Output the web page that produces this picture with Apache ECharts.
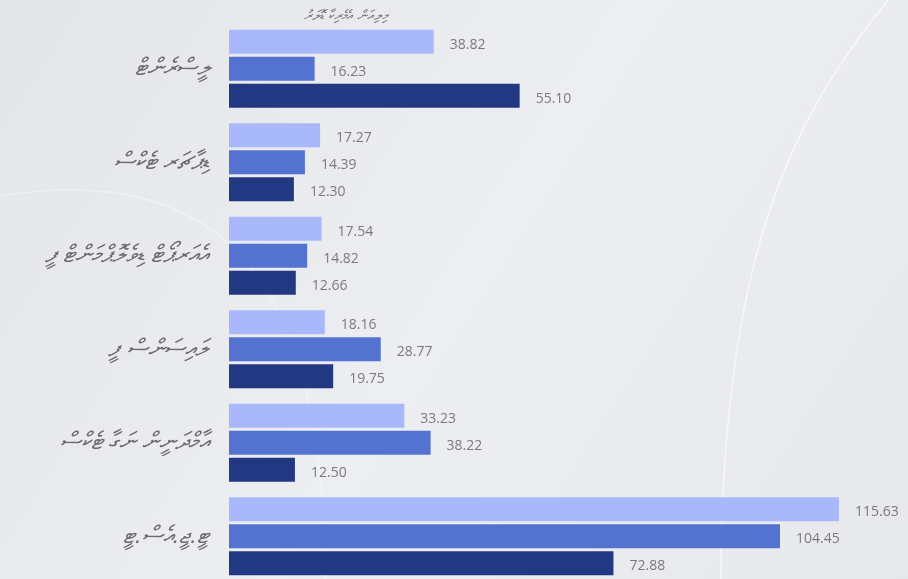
<!DOCTYPE html>
<html>
<head>
<meta charset="utf-8">
<script src="https://cdn.jsdelivr.net/npm/echarts@6/dist/echarts.min.js"></script>
<style>
  html, body { margin: 0; padding: 0; }
  #main { width: 908px; height: 579px; }
</style>
</head>
<body>
<div id="main"></div>
<script>
// ބައިތައް (މަތިން ތިރިއަށް)
var categories = ['ލީސްރެންޓް', 'ޑިޕާޗަރ ޓެކްސް', 'އެއަރޕޯޓް ޑިވެލޮޕްމަންޓް ފީ', 'ލައިސަންސް ފީ', 'އާމްދަނީން ނަގާ ޓެކްސް', 'ޓީ.ޖީ.އެސް.ޓީ'];
var series1 = [38.82, 17.27, 17.54, 18.16, 33.23, 115.63];
var series2 = [16.23, 14.39, 14.82, 28.77, 38.22, 104.45];
var series3 = [55.10, 12.30, 12.66, 19.75, 12.50, 72.88];
var seriesNames = ['1', '2', '3'];
var titleText = 'މިލިއަން އެމެރިކާ ޑޮލަރު';

var colors = ['#a9b8fa', '#5472cf', '#233883'];

var myChart = echarts.init(document.getElementById('main'));

function makeSeries(name, data, color) {
    return {
	name : name,
	type : 'bar',
	data : data,
	barWidth : 24,
	barGap : '12%',
	itemStyle : {
	    color : color
	},
	label : {
	    show : true,
	    position : 'right',
	    distance : 16,
	    offset : [ 0, 3 ],
	    color : '#7a7a7a',
	    fontSize : 14,
	    fontFamily : 'Open Sans',
	    formatter : function(p) {
		return p.value.toFixed(2);
	    }
	}
    };
}

myChart.setOption({
    backgroundColor : {
	type : 'linear',
	x : 0, y : 0, x2 : 1, y2 : 1,
	colorStops : [ { offset : 0, color : '#e3e5e9' },
		{ offset : 0.5, color : '#eceef1' },
		{ offset : 1, color : '#e6e8ec' } ]
    },
    // ފަހަތުގެ ރޮނގުތައް
    graphic : [ {
	type : 'bezierCurve',
	silent : true,
	z : -1,
	shape : { x1 : 888, y1 : 0, cpx1 : 790, cpy1 : 120, cpx2 : 722, cpy2 : 260, x2 : 721, y2 : 579 },
	style : { stroke : 'rgba(255,255,255,0.65)', lineWidth : 1.5, fill : null }
    }, {
	type : 'bezierCurve',
	silent : true,
	z : -1,
	shape : { x1 : 0, y1 : 196, cpx1 : 200, cpy1 : 165, cpx2 : 325, cpy2 : 250, x2 : 325, y2 : 579 },
	style : { stroke : 'rgba(255,255,255,0.4)', lineWidth : 1.5, fill : null }
    } ],
    title : {
	text : titleText,
	left : 341,
	top : 4,
	textAlign : 'center',
	textStyle : {
	    color : '#707070',
	    fontSize : 14,
	    fontWeight : 'normal',
	    fontStyle : 'italic'
	}
    },
    animation : false,
    grid : {
	left : 229,
	right : 46,
	top : 22,
	height : 561,
	outerBoundsMode : 'none'
    },
    xAxis : {
	type : 'value',
	min : 0,
	max : 120,
	show : false
    },
    yAxis : {
	type : 'category',
	inverse : true,
	data : categories,
	axisLine : { show : false },
	axisTick : { show : false },
	axisLabel : {
	    margin : 20,
	    color : '#6b6b6b',
	    fontSize : 24,
	    fontStyle : 'italic'
	}
    },
    series : [ makeSeries(seriesNames[0], series1, colors[0]),
	    makeSeries(seriesNames[1], series2, colors[1]),
	    makeSeries(seriesNames[2], series3, colors[2]) ]
});
</script>
</body>
</html>
